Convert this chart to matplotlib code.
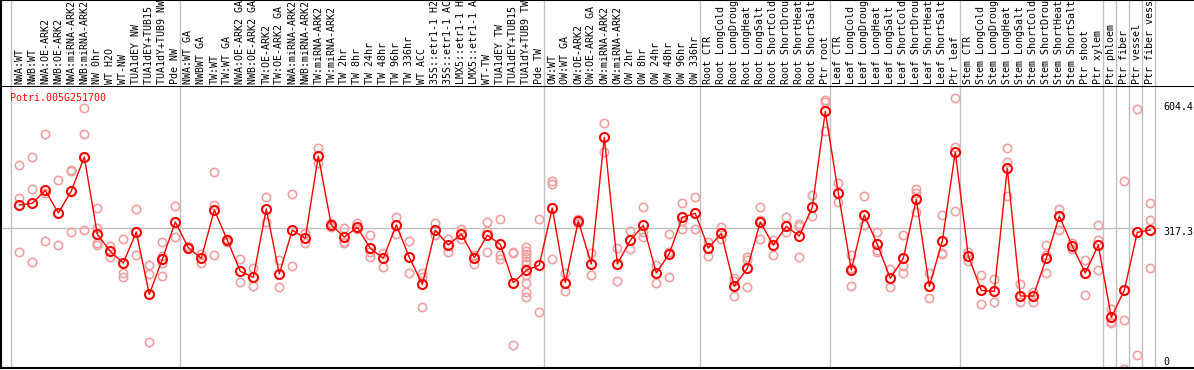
import matplotlib
matplotlib.use("Agg")
import matplotlib.pyplot as plt

gene = "Potri.005G251700"

samples = [
    "NWA:WT", "NWB:WT", "NWA:OE-ARK2", "NWB:OE-ARK2", "NWA:miRNA-ARK2",
    "NWB:miRNA-ARK2", "NW 0hr", "WT H2O", "WT-NW", "TUA1dEY NW",
    "TUA1dEY+TUB15 NW", "TUA1dY+TUB9 NW", "Pde NW",
    "NWA:WT GA", "NWBWT GA", "TW:WT", "TW:WT GA", "NWA:OE-ARK2 GA",
    "NWB:OE-ARK2 GA", "TW:OE-ARK2", "TW:OE-ARK2 GA", "NWA:miRNA-ARK2",
    "NWB:miRNA-ARK2", "TW:miRNA-ARK2", "TW:miRNA-ARK2", "TW 2hr", "TW 8hr",
    "TW 24hr", "TW 48hr", "TW 96hr", "TW 336hr", "WT ACC",
    "35S::etr1-1 H2O", "35S::etr1-1 ACC", "LMX5::etr1-1 H2O",
    "LMX5::etr1-1 ACC", "WT-TW", "TUA1dEY TW", "TUA1dEY+TUB15 TW",
    "TUA1dY+TUB9 TW", "Pde TW",
    "OW:WT", "OW:WT GA", "OW:OE-ARK2", "OW:OE-ARK2 GA", "OW:miRNA-ARK2",
    "OW:miRNA-ARK2", "OW 2hr", "OW 8hr", "OW 24hr", "OW 48hr", "OW 96hr",
    "OW 336hr",
    "Root CTR", "Root LongCold", "Root LongDrought", "Root LongHeat",
    "Root LongSalt", "Root ShortCold", "Root ShortDrought", "Root ShortHeat",
    "Root ShortSalt", "Ptr root",
    "Leaf CTR", "Leaf LongCold", "Leaf LongDrought", "Leaf LongHeat",
    "Leaf LongSalt", "Leaf ShortCold", "Leaf ShortDrought", "Leaf ShortHeat",
    "Leaf ShortSalt", "Ptr leaf",
    "Stem CTR", "Stem LongCold", "Stem LongDrought", "Stem LongHeat",
    "Stem LongSalt", "Stem ShortCold", "Stem ShortDrought", "Stem ShortHeat",
    "Stem ShortSalt", "Ptr shoot", "Ptr xylem",
    "Ptr phloem", "Ptr fiber", "Ptr vessel", "Ptr fiber vessel",
]

# mean expression per sample
means = [
    372.3, 376.2, 407.1, 353.3, 405.5, 486.3, 302.6, 262.2, 234.5, 308.1,
    160.0, 243.2, 331.9,
    270.9, 245.5, 360.4, 289.1, 214.7, 200.4, 362.8, 208.3, 312.9, 293.1,
    488.7, 324.7, 296.2, 319.2, 269.3, 245.5, 324.7, 247.9, 183.8, 312.1,
    277.2, 303.4, 247.1, 300.2, 278.8, 187.7, 217.0, 229.7,
    365.1, 187.7, 334.2, 232.1, 533.0, 232.1, 288.3, 323.9, 210.7, 256.6,
    343.0, 352.5,
    270.1, 304.9, 179.0, 221.8, 331.9, 277.2, 321.6, 298.6, 366.7, 594.8,
    400.8, 217.8, 348.5, 278.8, 198.0, 245.5, 385.7, 179.0, 286.7, 498.2,
    251.1, 169.5, 167.1, 459.4, 156.0, 156.0, 245.5, 346.1, 274.8, 210.7,
    277.2,
    105.4, 169.5, 307.3, 312.9,
]

# individual replicates per sample
reps = [
    [467.3, 388.1, 259.8], [485.5, 409.5, 236.0], [540.2, 400.0, 285.9],
    [430.9, 276.4], [455.4, 453.0, 307.3], [601.9, 540.2, 312.1],
    [365.1, 318.4, 281.2, 277.2], [275.6, 249.5], [290.7, 211.5, 200.4],
    [362.8, 253.5], [228.9, 207.5, 46.0], [283.6, 251.9, 233.7, 203.6],
    [369.9, 295.4],
    [275.6, 269.3], [255.0, 235.2], [450.7, 372.3, 252.7], [291.5, 285.1],
    [244.0, 188.5], [221.8, 179.0], [391.3, 331.1], [242.4, 177.4],
    [398.4, 227.3], [306.5, 281.2], [506.9, 471.3], [330.3, 320.8],
    [316.8, 285.1, 281.2], [328.7, 314.4], [301.0, 261.4, 247.9],
    [257.4, 225.7], [343.7, 303.4], [285.9, 210.7], [209.9, 202.0, 129.1],
    [328.7, 301.0], [291.5, 259.8], [314.4, 291.5], [254.3, 232.9],
    [331.1, 311.3, 259.8], [338.2, 253.5, 243.2], [259.8, 257.4, 38.8],
    [271.7, 263.8, 255.8, 247.9, 240.0, 232.1, 206.0, 186.2, 166.3, 154.5],
    [338.2, 118.0],
    [430.1, 422.2, 243.2], [209.9, 167.9], [339.8, 330.3], [257.4, 205.1],
    [567.1, 498.2], [269.3, 190.9], [309.7, 266.9], [367.5, 307.3, 297.0],
    [230.5, 186.2], [303.4, 260.6, 200.4], [376.2, 335.0, 316.0],
    [391.3, 314.4],
    [285.1, 250.3], [320.8, 291.5], [198.0, 190.9, 156.0],
    [247.9, 241.6, 177.4], [367.5, 336.6, 291.5], [289.9, 253.5],
    [343.7, 308.9], [327.9, 323.2, 247.9], [396.0, 346.1],
    [621.7, 617.0, 547.3],
    [423.7, 378.6], [253.5, 223.4, 179.8], [392.9, 324.7],
    [307.3, 265.3, 261.4], [219.4, 176.6], [301.0, 227.3, 209.9],
    [410.3, 400.0, 354.8], [211.5, 150.5], [347.7, 259.0, 255.8],
    [625.7, 510.9, 358.0],
    [261.4, 240.0], [205.9, 136.2], [195.6, 141.8], [506.9, 475.2, 394.4],
    [184.6, 141.0], [166.3, 141.0], [277.2, 253.5, 210.7], [362.8, 312.1],
    [281.2, 266.9], [240.8, 158.4], [323.9, 289.1, 217.0],
    [125.2, 95.1, 91.1], [428.5, 99.0, -18.2], [600.4, 15.1],
    [376.2, 336.6, 221.8],
]

# group separators sit between these sample positions
separators = [-0.66, 12.36, 40.38, 52.36, 62.36, 72.36, 83.36, 84.36, 85.36,
              86.36, 87.36]
ref_line = 317.3
axis_labels = [604.4, 317.3, 0]

W, H = 1194, 370
fig = plt.figure(figsize=(W / 100, H / 100), dpi=100)

font = "DejaVu Sans Mono"
fs = 7.2
grey = "#c0c0c0"
xlim = ((1 - 19.3) / 13, (W - 19.3) / 13)

# main plot area (y px 86..368)
ax = fig.add_axes([1 / W, 2 / H, (W - 1) / W, 282 / H])
ax.set_xlim(*xlim)
ax.set_ylim(-15.0, 655.0)
for s in ["right"]:
    ax.spines[s].set_visible(False)
for s in ["left", "top", "bottom"]:
    ax.spines[s].set_linewidth(1.5)
ax.set_xticks([])
ax.set_yticks([])

for sx in separators:
    ax.axvline(sx, color=grey, lw=1, zorder=1)
ax.hlines(ref_line, xlim[0], 87.75, color=grey, lw=1, zorder=1)

for i, r in enumerate(reps):
    ax.plot([i] * len(r), r, ls="none", marker="o", ms=6, mfc="none",
            mec="#f0a0a0", mew=1.2, zorder=2, clip_on=True)

xs = list(range(len(means)))
ax.plot(xs, means, color="red", lw=1, zorder=3)
ax.plot(xs, means, ls="none", marker="o", ms=6.5, mfc="none", mec="red",
        mew=1.5, zorder=4)

ax.text(xlim[0] + (10 - 1) / 13, 627, gene, color="red", fontsize=fs,
        family=font, ha="left", va="center")

for v in axis_labels:
    yv = v - 10 if v == ref_line else v
    ax.text(88.0, yv, f"{v:g}" if v == 0 else f"{v}", fontsize=fs,
            family=font, ha="left", va="center", color="black")

# header with rotated sample names (y px 0..86)
hx = fig.add_axes([1 / W, 284 / H, (W - 1) / W, 86 / H])
hx.set_xlim(*xlim)
hx.set_ylim(0, 1)
hx.set_xticks([])
hx.set_yticks([])
hx.spines["right"].set_visible(False)
hx.spines["bottom"].set_visible(False)
hx.spines["left"].set_linewidth(1.5)
hx.spines["top"].set_linewidth(1.5)
for sx in separators:
    hx.axvline(sx, color=grey, lw=1)
for i, name in enumerate(samples):
    hx.text(i, 2 / 86, name, rotation=90, ha="center", va="bottom",
            fontsize=fs, family=font, color="black")

fig.savefig("out.png", dpi=100)
